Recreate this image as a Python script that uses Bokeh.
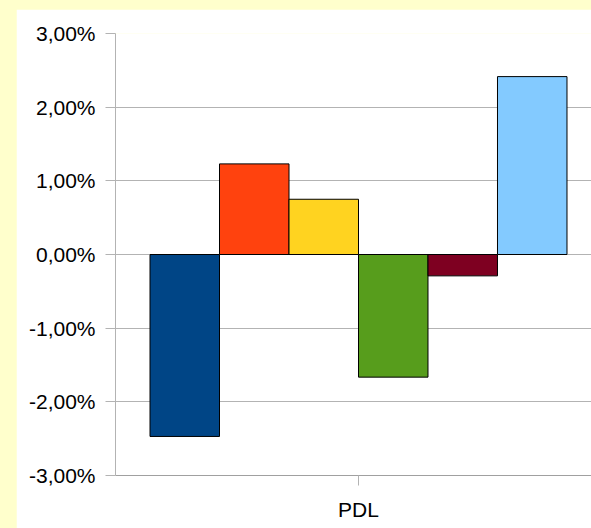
from bokeh.plotting import figure
from bokeh.models import Range1d, FixedTicker, CustomJSTickFormatter
from bokeh.embed import file_html
from bokeh.resources import INLINE

# ---- data ----
categories = ["PDL"]
series_values = [-2.47, 1.23, 0.75, -1.665, -0.29, 2.415]   # percent
series_colors = ["#004586", "#FF420E", "#FFD320", "#579D1C", "#7E0021", "#83CAFF"]
y_ticks = [-3, -2, -1, 0, 1, 2, 3]

# ---- layout helpers ----
bar_w = 0.143
n = len(series_values)
xs = [(i - (n - 1) / 2) * bar_w for i in range(n)]

FONT = "Liberation Sans"
GRID = "#b3b3b3"

p = figure(width=575, height=519, output_backend="svg", toolbar_location=None,
           x_range=Range1d(-0.5, -0.5 + 476 / 486), y_range=Range1d(-3, 3),
           min_border_left=99, min_border_right=0, min_border_top=24,
           min_border_bottom=53)
p.margin = (9, 0, 0, 16)
p.border_fill_color = "white"
p.background_fill_color = "white"
p.outline_line_color = None

p.vbar(x=xs, top=series_values, bottom=0, width=bar_w,
       fill_color=series_colors, line_color="black", line_width=1)

# y axis
p.yaxis.ticker = FixedTicker(ticks=y_ticks)
p.yaxis.formatter = CustomJSTickFormatter(
    code="var v = Math.abs(tick) < 1e-9 ? 0 : tick; return v.toFixed(2).replace('.', ',') + '%';")
p.yaxis.major_label_text_font = FONT
p.yaxis.major_label_text_font_size = "21px"
p.yaxis.major_label_text_color = "black"
p.yaxis.major_label_standoff = 10
p.yaxis.major_tick_out = 10
p.yaxis.major_tick_in = 0
p.yaxis.minor_tick_line_color = None
p.yaxis.axis_line_color = GRID
p.yaxis.major_tick_line_color = GRID

# x axis (single category centred at 0)
p.xaxis.ticker = FixedTicker(ticks=[0])
p.xaxis.major_label_overrides = {0: categories[0]}
p.xaxis.major_label_text_font = FONT
p.xaxis.major_label_text_font_size = "21px"
p.xaxis.major_label_text_color = "black"
p.xaxis.major_label_standoff = 12
p.xaxis.major_tick_out = 10
p.xaxis.major_tick_in = 0
p.xaxis.minor_tick_line_color = None
p.xaxis.axis_line_color = "#a0a0a0"
p.xaxis.major_tick_line_color = GRID

p.xgrid.grid_line_color = None
p.ygrid.grid_line_color = GRID
p.ygrid.ticker = FixedTicker(ticks=y_ticks)

TEMPLATE = """{% block preamble %}<style>html, body { margin: 0 !important; padding: 0 !important; overflow: hidden; background-color: #FFFFCC; }</style>{% endblock %}"""

open("out.html", "w").write(file_html(p, INLINE, title="chart", template=TEMPLATE))
